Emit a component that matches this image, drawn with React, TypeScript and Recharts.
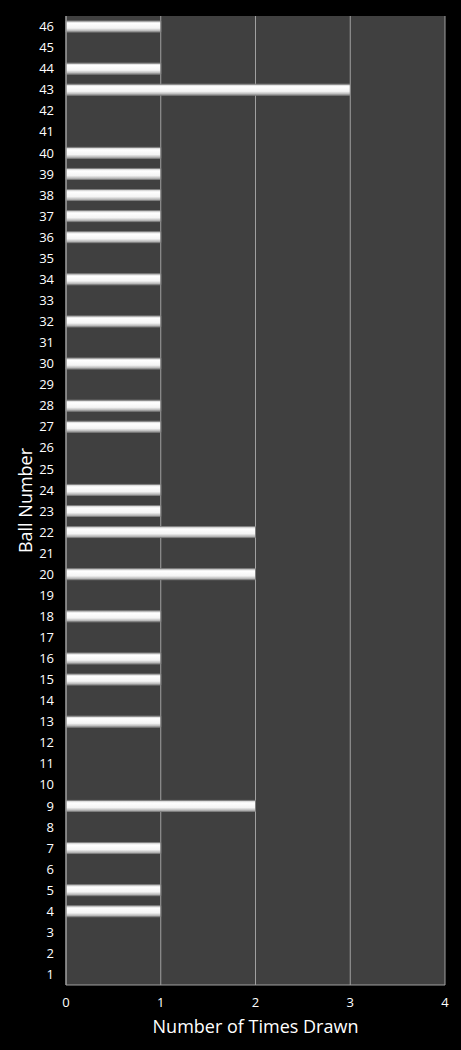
import React from "react";
import {
    BarChart,
    Bar,
    XAxis,
    YAxis,
    CartesianGrid,
} from "recharts";

// ball numbers 1..46 and how often each was drawn
const balls: number[] = [
    1, 2, 3, 4, 5, 6, 7, 8, 9, 10, 11, 12, 13, 14, 15, 16, 17, 18, 19, 20, 21, 22, 23,
    24, 25, 26, 27, 28, 29, 30, 31, 32, 33, 34, 35, 36, 37, 38, 39, 40, 41, 42, 43, 44, 45, 46,
];
const timesDrawn: number[] = [
    0, 0, 0, 1, 1, 0, 1, 0, 2, 0, 0, 0, 1, 0, 1, 1, 0, 1, 0, 2, 0, 2, 1,
    1, 0, 0, 1, 1, 0, 1, 0, 1, 0, 1, 0, 1, 1, 1, 1, 1, 0, 0, 3, 1, 0, 1,
];
const xTicks: number[] = [0, 1, 2, 3, 4];

const chartData = balls.map((ball, i) => ({ ball: String(ball), drawn: timesDrawn[i] }));

const font = "'Open Sans', 'DejaVu Sans', sans-serif";

const App: React.FC = () => {
    return (
        <div style={{ width: 461, height: 1050, background: "#000", fontFamily: font }}>
            <style>{"body{margin:0;background:#000}"}</style>
            <BarChart
                width={461}
                height={1050}
                data={chartData}
                layout="vertical"
                barSize={11}
                margin={{ top: 16, right: 16, bottom: 15, left: 1 }}
            >
                <defs>
                    <linearGradient id="barShine" x1="0" y1="0" x2="0" y2="1">
                        <stop offset="0%" stopColor="#c4c4c4" />
                        <stop offset="22%" stopColor="#ffffff" />
                        <stop offset="65%" stopColor="#f4f4f4" />
                        <stop offset="100%" stopColor="#9c9c9c" />
                    </linearGradient>
                </defs>

                <CartesianGrid
                    horizontal={false}
                    stroke="#a0a0a0"
                    fill="#404040"
                    fillOpacity={1}
                />

                {/* X Axis */}
                <XAxis
                    type="number"
                    domain={[0, 4]}
                    ticks={xTicks}
                    height={50}
                    tickLine={false}
                    axisLine={{ stroke: "#a0a0a0" }}
                    tick={{ fill: "#fff", fontSize: 13, fontFamily: font }}
                    tickMargin={7}
                    label={{
                        value: "Number of Times Drawn",
                        position: "insideBottom",
                        offset: 2,
                        style: { fill: "#fff", fontSize: 18, fontFamily: font },
                    }}
                />

                {/* Y Axis */}
                <YAxis
                    type="category"
                    dataKey="ball"
                    reversed
                    interval={0}
                    width={65}
                    tickLine={false}
                    axisLine={{ stroke: "#a0a0a0" }}
                    tick={{ fill: "#fff", fontSize: 13, fontFamily: font }}
                    tickMargin={6}
                    label={{
                        value: "Ball Number",
                        angle: -90,
                        position: "insideLeft",
                        offset: 25,
                        style: { fill: "#fff", fontSize: 18, fontFamily: font, textAnchor: "middle" },
                    }}
                />

                <Bar
                    dataKey="drawn"
                    fill="url(#barShine)"
                    stroke="#808080"
                    strokeWidth={1}
                    isAnimationActive={false}
                />
            </BarChart>
        </div>
    );
};

export default App;
